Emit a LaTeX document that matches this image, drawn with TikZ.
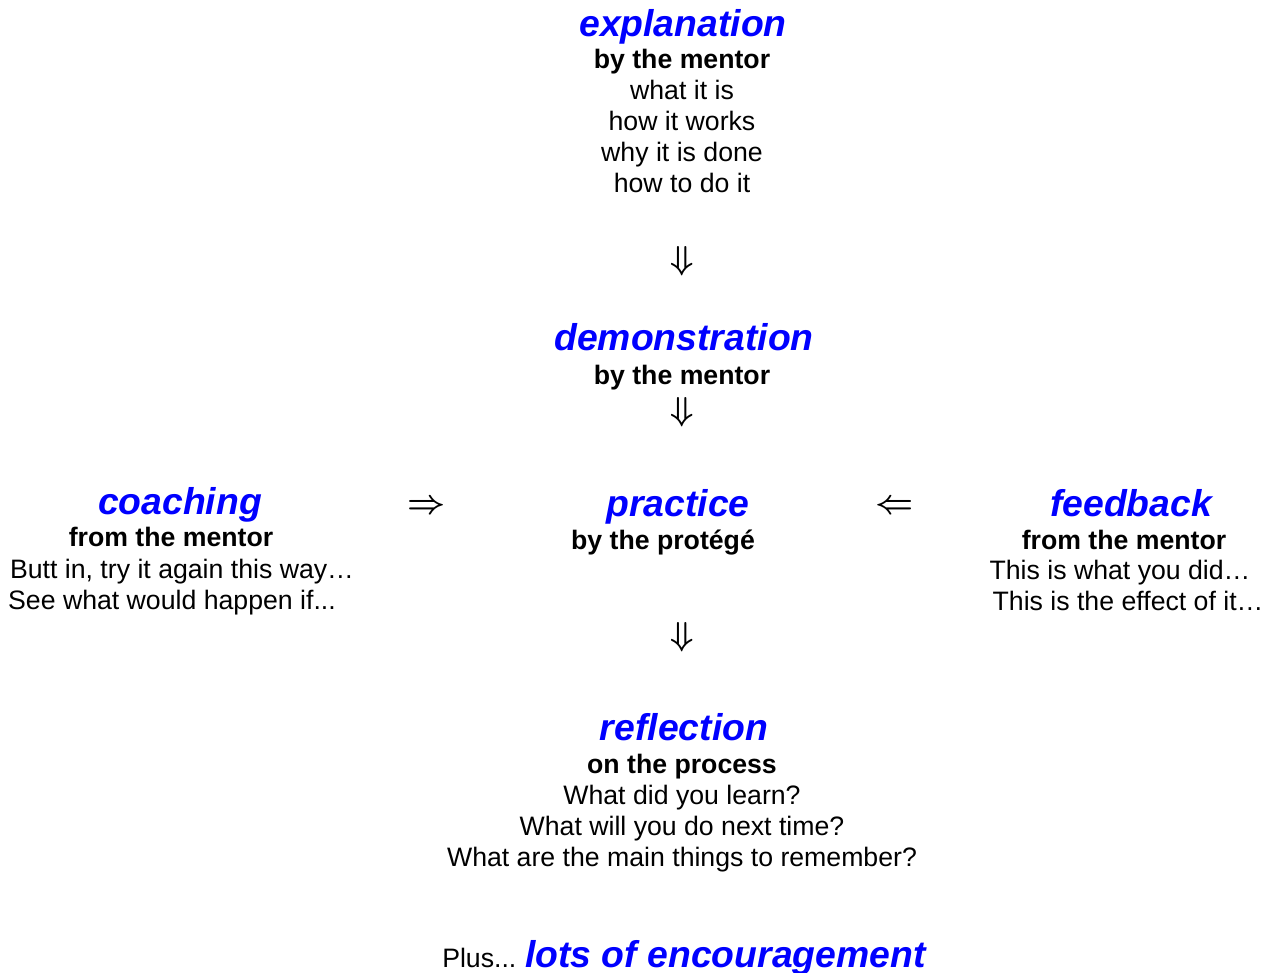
\documentclass[tikz,border=0pt]{standalone}
\usepackage{fontspec}
\setmainfont{Liberation Sans}
\usepackage{xcolor}
\usepackage{amsmath}
\usepackage{tikz}

\definecolor{stageblue}{RGB}{0,0,255}

\tikzset{
    stage/.style={anchor=base, inner sep=0pt, text=stageblue, font=\fontsize{28}{30}\selectfont\bfseries\itshape},
    who/.style={anchor=base, inner sep=0pt, font=\fontsize{20}{23}\selectfont\bfseries},
    say/.style={anchor=base, inner sep=0pt, font=\fontsize{20}{23}\selectfont},
    arr/.style={inner sep=0pt, font=\fontsize{32}{34}\selectfont\boldmath},
}

\begin{document}
\begin{tikzpicture}[x=0.75pt,y=-0.75pt]
        \useasboundingbox (0,0) rectangle (1270,973);
        % explanation
        \node[stage] (expl) at (683,37) {explanation};
        \node[who] (explby) at (682,69) {by the mentor};
        \foreach \i/\w in {1/what it is, 2/how it works, 3/why it is done, 4/how to do it}{
            \node[say] (expl\i) at (682,69+31*\i) {\w};
        }
        \node[arr] (down1) at (682,261) {$\Downarrow$};
        % demonstration
        \node[stage] (demo) at (684,351) {demonstration};
        \node[who] (demoby) at (682,384) {by the mentor};
        \node[arr] (down2) at (682,412) {$\Downarrow$};
        % practice
        \node[stage] (prac) at (678,516) {practice};
        \node[who] (pracby) at (663,549) {by the protégé};
        \node[arr] (right) at (427,507) {$\Rightarrow$};
        \node[arr] (left) at (895,507) {$\Leftarrow$};
        % coaching
        \node[stage] (coach) at (180,514) {coaching};
        \node[who] (coachby) at (171,546) {from the mentor};
        \foreach \i/\x/\w in {1/182/{Butt in, try it again this way…}, 2/172/{See what would happen if...}}{
            \node[say] (coach\i) at (\x,547+31*\i) {\w};
        }
        % feedback
        \node[stage] (feed) at (1131,516) {feedback};
        \node[who] (feedby) at (1124,549) {from the mentor};
        \foreach \i/\x/\w in {1/1120/{This is what you did…}, 2/1128/{This is the effect of it…}}{
            \node[say] (feed\i) at (\x,548+31*\i) {\w};
        }
        \node[arr] (down3) at (682,637) {$\Downarrow$};
        % reflection
        \node[stage] (refl) at (684,740) {reflection};
        \node[who] (reflby) at (682,773) {on the process};
        \foreach \i/\w in {1/What did you learn?, 2/What will you do next time?, 3/What are the main things to remember?}{
            \node[say] (refl\i) at (682,773+31*\i) {\w};
        }
        % encouragement
        \node[say, anchor=base west] (plus) at (442,967) {Plus...};
        \node[stage, anchor=base west] (enc) at (525,967) {lots of encouragement};
    \end{tikzpicture}
\end{document}
